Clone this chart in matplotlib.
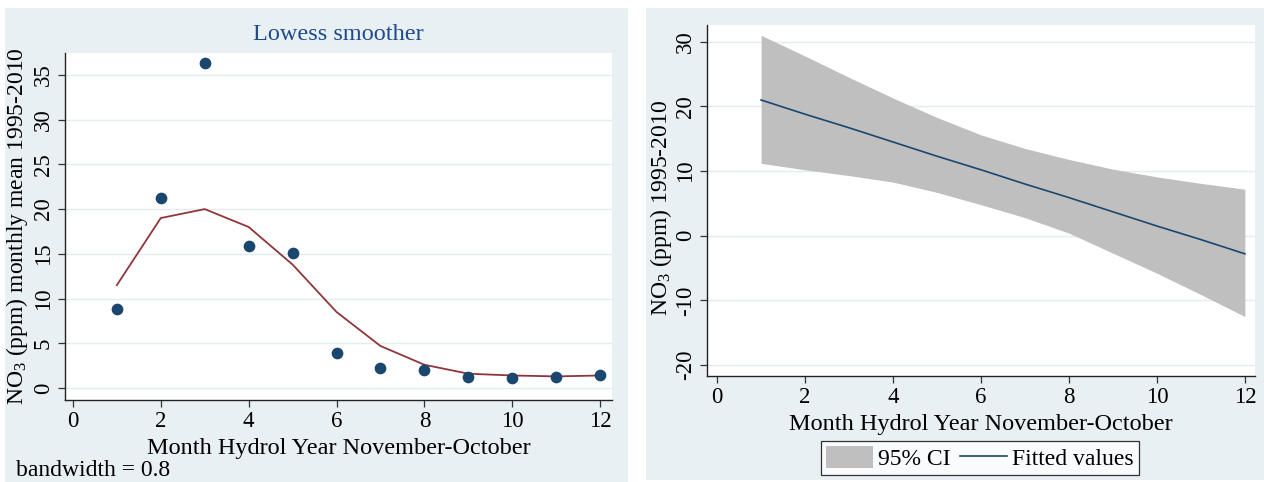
import numpy as np
import matplotlib
matplotlib.use("Agg")
import matplotlib.pyplot as plt
from matplotlib.patches import Rectangle, Patch
from matplotlib.lines import Line2D

# data
months = [1, 2, 3, 4, 5, 6, 7, 8, 9, 10, 11, 12]
no3_mean = [8.8, 21.2, 36.3, 15.9, 15.1, 3.9, 2.2, 2.0, 1.2, 1.1, 1.2, 1.5]
lowess_fit = [11.5, 19.0, 20.0, 18.0, 13.8, 8.5, 4.7, 2.6, 1.6, 1.4, 1.3, 1.4]

fitted = [21.0, 18.8, 16.7, 14.5, 12.3, 10.2, 8.0, 5.9, 3.7, 1.5, -0.6, -2.8]
ci_upper = [31.0, 27.8, 24.5, 21.3, 18.3, 15.6, 13.5, 11.8, 10.3, 9.1, 8.1, 7.2]
ci_lower = [11.2, 10.2, 9.3, 8.3, 6.7, 4.8, 2.8, 0.4, -2.7, -5.8, -9.1, -12.5]

left_yticks = [0, 5, 10, 15, 20, 25, 30, 35]
right_yticks = [-20, -10, 0, 10, 20, 30]
xticks = [0, 2, 4, 6, 8, 10, 12]

plt.rcParams['font.family'] = ['Liberation Serif', 'DejaVu Serif']
plt.rcParams['mathtext.default'] = 'regular'
plt.rcParams['axes.unicode_minus'] = False

W, H = 1264, 482
fig = plt.figure(figsize=(W / 100, H / 100), dpi=100)
fig.patch.set_facecolor('white')

panel_bg = '#e9f0f3'
navy = '#1a476f'
maroon = '#90353b'


def fbox(x0, y0, x1, y1):
    # pixel box (top-left origin) -> figure fraction rect
    return [x0 / W, 1 - y1 / H, (x1 - x0) / W, (y1 - y0) / H]


for x0, y0, x1, y1 in [(5, 8, 628, 482), (646, 8, 1264, 480)]:
    r = fbox(x0, y0, x1, y1)
    fig.patches.append(Rectangle((r[0], r[1]), r[2], r[3], transform=fig.transFigure,
                                 facecolor=panel_bg, edgecolor='none', zorder=-10))


def style(ax, yticks):
    ax.set_facecolor('white')
    for s in ['top', 'right']:
        ax.spines[s].set_visible(False)
    for s in ['left', 'bottom']:
        ax.spines[s].set_color('#222222')
        ax.spines[s].set_linewidth(1.0)
    ax.set_xticks(xticks)
    ax.set_yticks(yticks)
    ax.tick_params(axis='both', labelsize=16.5, length=5, width=0.9, color='#333333', pad=3)
    for lab in ax.get_yticklabels():
        lab.set_rotation(90)
        lab.set_va('center')
    ax.yaxis.grid(True, color='#e4ecef', lw=1.0)
    ax.set_axisbelow(True)
    ax.set_xlabel('Month Hydrol Year November-October', fontsize=17.5, labelpad=4)


# left panel: lowess smoother
ax1 = fig.add_axes(fbox(65, 53, 612, 400))
ax1.scatter(months, no3_mean, s=55, color=navy, zorder=3)
ax1.plot(months, lowess_fit, color=maroon, lw=1.3, zorder=2)
ax1.set_xlim(-0.18, 12.27)
ax1.set_ylim(-1.34, 37.45)
style(ax1, left_yticks)
ax1.set_ylabel(r'NO$_3$ (ppm) monthly mean 1995-2010', fontsize=17, labelpad=2)
ax1.set_title('Lowess smoother', fontsize=17.5, color='#1e4b8c', pad=9)
fig.text(16 / W, 1 - 470 / H, 'bandwidth = 0.8', fontsize=17, ha='left', va='center')

# right panel: linear fit with 95% CI
ax2 = fig.add_axes(fbox(707, 25, 1255, 376))
ax2.fill_between(months, ci_lower, ci_upper, color='#bfbfbf', lw=0, zorder=1)
ax2.plot(months, fitted, color=navy, lw=1.2, zorder=2)
ax2.set_xlim(-0.23, 12.23)
ax2.set_ylim(-21.7, 32.6)
style(ax2, right_yticks)
ax2.set_ylabel(r'NO$_3$ (ppm) 1995-2010', fontsize=17, labelpad=4)
ax2.yaxis.set_label_coords(-0.06, 0.48)

handles = [Patch(facecolor='#bfbfbf', edgecolor='none'),
           Line2D([0], [0], color=navy, lw=1.2)]
leg = fig.legend(handles, ['95% CI', 'Fitted values'], ncol=2,
                 loc='center', bbox_to_anchor=(980 / W, 1 - 458 / H),
                 fontsize=17, frameon=True, fancybox=False,
                 edgecolor='black', handlelength=2.0, handleheight=1.1,
                 handletextpad=0.2, columnspacing=0.4, borderpad=0.2,
                 borderaxespad=0)
leg.get_frame().set_linewidth(0.9)

fig.savefig('out.png', dpi=100, facecolor='white')
